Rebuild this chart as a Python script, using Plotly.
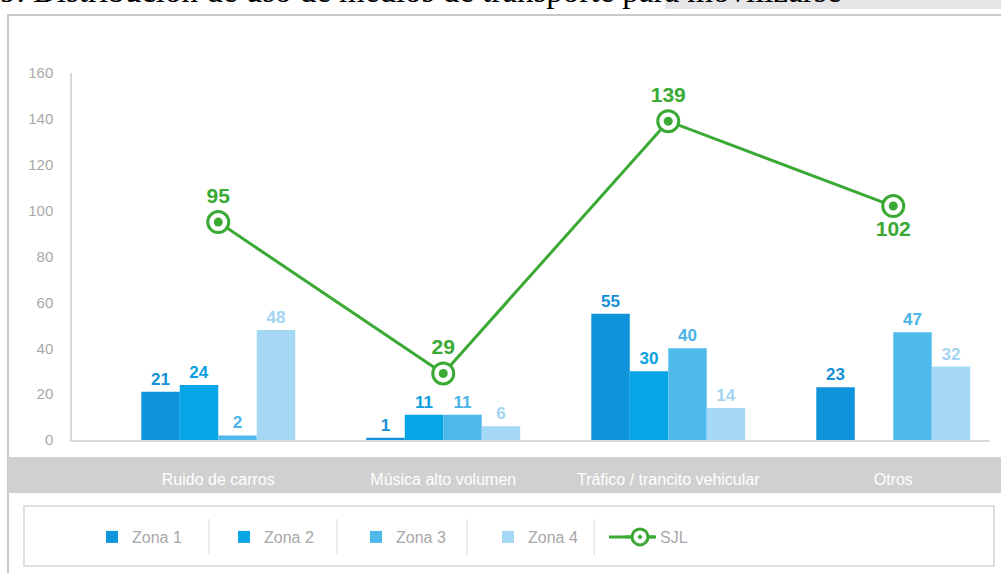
import plotly.graph_objects as go

# ---- data ----
categorias = ["Ruido de carros", "Música alto volumen", "Tráfico / trancito vehicular", "Otros"]
zona1 = [21, 1, 55, 23]
zona2 = [24, 11, 30, None]
zona3 = [2, 11, 40, 47]
zona4 = [48, 6, 14, 32]
sjl = [95, 29, 139, 102]
y_ticks = [0, 20, 40, 60, 80, 100, 120, 140, 160]

titulo = "9. Distribución de uso de medios de transporte para movilizarse"

# ---- styling ----
bar_colors = ["#0f93da", "#05a5e6", "#4fb9ec", "#a5d8f5"]
label_colors = ["#1590d6", "#08a0e0", "#4ab3e8", "#a3d4f2"]
green = "#3aaa35"
font_family = "Liberation Sans, Arial, sans-serif"

# plot-area geometry in pixels (used to place the decorative shapes)
W, H = 1001, 573
L, R, T, B = 72, 11, 73, 133
PW, PH = W - L - R, H - T - B


def px_x(x):
    return (x - L) / PW


def px_y(y):
    return (H - B - y) / PH


fig = go.Figure()

series = [("Zona 1", zona1), ("Zona 2", zona2), ("Zona 3", zona3), ("Zona 4", zona4)]
for i, (name, vals) in enumerate(series):
    fig.add_trace(go.Bar(
        x=categorias, y=vals, name=name,
        marker=dict(color=bar_colors[i], line=dict(width=0)),
        text=[("" if v is None else str(v)) for v in vals],
        textposition="outside",
        textfont=dict(family=font_family, size=17, color=label_colors[i], weight="bold"),
        cliponaxis=False,
    ))

# SJL line with ring markers
fig.add_trace(go.Scatter(
    x=categorias, y=sjl, name="SJL", mode="lines+markers+text",
    line=dict(color=green, width=3),
    marker=dict(symbol="circle-dot", size=21, color="white", line=dict(color=green, width=3)),
    text=[str(v) for v in sjl],
    textposition=["top center", "top center", "top center", "bottom center"],
    textfont=dict(family=font_family, size=21, color=green, weight="bold"),
    cliponaxis=False,
))
# inner dots of the ring markers
fig.add_trace(go.Scatter(
    x=categorias, y=sjl, mode="markers", showlegend=False, hoverinfo="skip",
    marker=dict(symbol="circle", size=9, color=green),
    cliponaxis=False,
))

shapes = []
# outer frame
shapes.append(dict(type="rect", xref="paper", yref="paper",
                   x0=px_x(8), x1=px_x(1012), y0=px_y(585), y1=px_y(15),
                   line=dict(color="#c9c9c9", width=2), fillcolor="rgba(0,0,0,0)", layer="below"))
# grey strip at the very top
shapes.append(dict(type="rect", xref="paper", yref="paper",
                   x0=px_x(665), x1=px_x(1005), y0=px_y(9), y1=px_y(-5),
                   line=dict(width=0), fillcolor="#e6e6e8", layer="below"))
# category band
shapes.append(dict(type="rect", xref="paper", yref="paper",
                   x0=px_x(8), x1=px_x(1005), y0=px_y(493), y1=px_y(457),
                   line=dict(width=0), fillcolor="#d0d0d0", layer="below"))
# legend box
shapes.append(dict(type="rect", xref="paper", yref="paper",
                   x0=px_x(24), x1=px_x(994), y0=px_y(566), y1=px_y(506),
                   line=dict(color="#d6d6d6", width=1.5), fillcolor="white", layer="below"))
# legend separators
for sx in [209, 337, 467, 594]:
    shapes.append(dict(type="line", xref="paper", yref="paper",
                       x0=px_x(sx), x1=px_x(sx), y0=px_y(555), y1=px_y(519),
                       line=dict(color="#d9d9d9", width=1)))
# longer stroke for the SJL legend key
shapes.append(dict(type="line", xref="paper", yref="paper",
                   x0=px_x(609), x1=px_x(656), y0=px_y(537), y1=px_y(537),
                   line=dict(color=green, width=3), layer="below"))

fig.update_layout(
    width=W, height=H,
    margin=dict(l=L, r=R, t=T, b=B, pad=0),
    paper_bgcolor="white", plot_bgcolor="white",
    barmode="group", bargap=0.316, bargroupgap=0,
    font=dict(family=font_family),
    shapes=shapes,
    showlegend=True,
    legend=dict(
        orientation="h", x=px_x(92), xanchor="left", y=px_y(537), yanchor="middle",
        entrywidth=87, entrywidthmode="pixels",
        font=dict(family=font_family, size=16, color="#a8a8a8"),
        bgcolor="rgba(0,0,0,0)", borderwidth=0, traceorder="normal",
    ),
    annotations=[dict(
        text=titulo, xref="paper", yref="paper", x=px_x(-2), y=px_y(-9),
        xanchor="left", yanchor="middle", showarrow=False,
        font=dict(family="Liberation Serif, Times New Roman, serif", size=33, color="black"),
    )],
)

fig.update_xaxes(
    type="category", range=[-0.65, 3.43],
    showgrid=False, zeroline=False,
    showline=True, linecolor="#d9d9d9", linewidth=1.5,
    ticks="outside", ticklen=24, tickcolor="rgba(0,0,0,0)",
    tickfont=dict(family=font_family, size=16, color="white"),
)
fig.update_yaxes(
    range=[0, 160], tickvals=y_ticks,
    showgrid=False, zeroline=False,
    showline=True, linecolor="#d9d9d9", linewidth=1.5,
    ticks="outside", ticklen=14, tickcolor="rgba(0,0,0,0)",
    tickfont=dict(family=font_family, size=15, color="#a9a9a9"),
)

fig.write_html("out.html")
